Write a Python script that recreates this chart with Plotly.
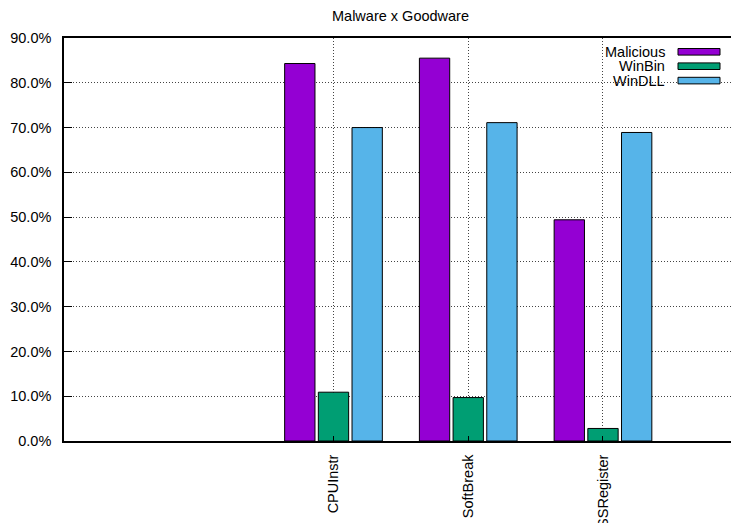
import plotly.graph_objects as go

# Detection rates (%) per technique for each sample set
categories = ["CPUInstr", "SoftBreak", "SSRegister"]
series_names = ["Malicious", "WinBin", "WinDLL"]
malicious = [84.3, 85.5, 49.4]
winbin = [10.9, 9.7, 2.8]
windll = [70.0, 71.1, 68.9]
y_ticks = [0, 10, 20, 30, 40, 50, 60, 70, 80, 90]
y_tick_labels = [f"{v:.1f}%" for v in y_ticks]

colors = ["#9400D3", "#009E73", "#56B4E9"]
values = [malicious, winbin, windll]

FONT = "Liberation Sans, Arial, Helvetica, sans-serif"
FS = 14.5
W, H = 731, 523
ML, MR, MT, MB = 64, 0, 38, 82

fig = go.Figure()
for name, vals, col in zip(series_names, values, colors):
    fig.add_trace(go.Bar(
        x=categories, y=vals, name=name,
        marker=dict(color=col, line=dict(color="black", width=1)),
        showlegend=False,
    ))

fig.update_layout(
    width=W, height=H,
    margin=dict(l=ML, r=MR, t=MT, b=MB, autoexpand=False),
    paper_bgcolor="white", plot_bgcolor="white",
    barmode="group", bargap=0.25, bargroupgap=0.1,
    font=dict(family=FONT, size=FS, color="black"),
)

grid_dash = "1px,2px"

fig.update_xaxes(
    type="category", range=[-2, 2.95],
    showline=True, linecolor="black", linewidth=1.5, mirror=True,
    ticks="inside", ticklen=5, tickcolor="black",
    tickangle=-90, ticklabelstandoff=6,
    showgrid=True, gridcolor="#444444", griddash=grid_dash, gridwidth=1,
    automargin=False,
    tickfont=dict(family=FONT, size=FS, color="black"),
)
fig.update_yaxes(
    range=[0, 90], tickmode="array", tickvals=y_ticks, ticktext=y_tick_labels,
    showline=True, linecolor="black", linewidth=1.5, mirror=False,
    ticks="inside", ticklen=8, tickcolor="black",
    ticklabelstandoff=8,
    showgrid=True, gridcolor="#444444", griddash=grid_dash, gridwidth=1,
    zeroline=False, automargin=False,
    tickfont=dict(family=FONT, size=FS, color="black"),
)

pw = W - ML - MR
ph = H - MT - MB


def px_x(px):
    return (px - ML) / pw


def px_y(py):
    return (H - MB - py) / ph


# Title
fig.add_annotation(
    text="Malware x Goodware", xref="paper", yref="paper",
    x=px_x(400), y=px_y(16), xanchor="center", yanchor="middle",
    showarrow=False, font=dict(family=FONT, size=FS, color="black"),
)

# Key: right-aligned labels with colour swatches on the right
row_y = [51.8, 66.2, 80.6]
for name, col, ry in zip(series_names, colors, row_y):
    fig.add_annotation(
        text=name, xref="paper", yref="paper",
        x=px_x(667), y=px_y(ry), xanchor="right", yanchor="middle",
        showarrow=False, font=dict(family=FONT, size=FS, color="black"),
    )
    fig.add_shape(
        type="rect", xref="paper", yref="paper",
        x0=px_x(678), x1=px_x(720), y0=px_y(ry + 3.3), y1=px_y(ry - 3.3),
        fillcolor=col, line=dict(color="black", width=1),
    )

fig.write_html("out.html")
